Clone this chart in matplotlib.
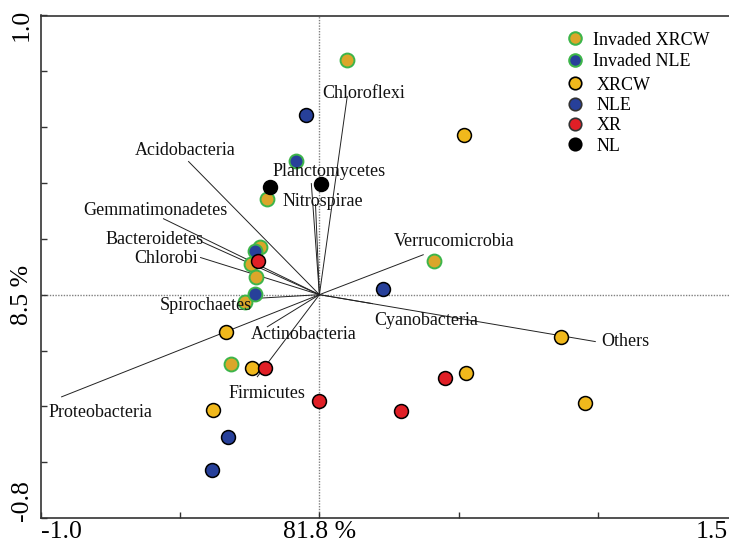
import matplotlib
matplotlib.use('Agg')
import matplotlib.pyplot as plt
from matplotlib.lines import Line2D
import matplotlib.transforms as mtransforms

plt.rcParams['font.family'] = ['Liberation Serif', 'DejaVu Serif']

# ---- sample scores ----
inv_xrcw_x = [0.100, -0.187, -0.215, -0.244, -0.226, -0.269, -0.316, 0.413]
inv_xrcw_y = [0.839, 0.341, 0.172, 0.111, 0.065, -0.025, -0.247, 0.122]
inv_nle_x = [-0.083, -0.233, -0.230]
inv_nle_y = [0.480, 0.158, 0.004]
xrcw_x = [-0.334, -0.241, -0.381, 0.521, 0.869, 0.528, 0.955]
xrcw_y = [-0.133, -0.262, -0.412, 0.573, -0.151, -0.280, -0.387]
nle_x = [-0.327, -0.384, -0.047, 0.230]
nle_y = [-0.509, -0.627, 0.642, 0.022]
xr_x = [-0.219, -0.197, 0.000, 0.452, 0.294]
xr_y = [0.122, -0.262, -0.380, -0.297, -0.416]
nl_x = [-0.176, 0.007]
nl_y = [0.384, 0.398]

# ---- species vectors ----
species = ['Chloroflexi', 'Planctomycetes', 'Nitrospirae', 'Acidobacteria',
           'Gemmatimonadetes', 'Bacteroidetes', 'Chlorobi', 'Spirochaetes',
           'Actinobacteria', 'Firmicutes', 'Proteobacteria', 'Verrucomicrobia',
           'Cyanobacteria', 'Others']
species_x = [0.100, -0.029, -0.014, -0.470, -0.560, -0.424, -0.427, -0.240,
             -0.187, -0.223, -0.926, 0.373, 0.190, 0.991]
species_y = [0.710, 0.398, 0.323, 0.477, 0.272, 0.190, 0.133, -0.014,
             -0.115, -0.294, -0.366, 0.143, -0.032, -0.168]
# label anchor positions (layout)
label_pos = [(0.011, 0.720, 'left'), (0.036, 0.441, 'center'), (0.011, 0.334, 'center'),
             (-0.481, 0.516, 'center'), (-0.589, 0.301, 'center'), (-0.592, 0.197, 'center'),
             (-0.549, 0.129, 'center'), (-0.409, -0.039, 'center'), (-0.057, -0.143, 'center'),
             (-0.187, -0.355, 'center'), (-0.786, -0.423, 'center'), (0.485, 0.190, 'center'),
             (0.384, -0.093, 'center'), (1.099, -0.168, 'center')]

x_labels = ['-1.0', '81.8 %', '1.5']
y_labels = ['1.0', '8.5 %', '-0.8']

ORANGE = '#f0b81c'
INV_ORANGE = '#dba62a'
BLUE = '#27409a'
RED = '#e01f26'
GREEN = '#3db54a'

fig = plt.figure(figsize=(7.29, 5.47), dpi=100)
ax = fig.add_axes([41/729, 29/547, 696/729, 502.5/547])
ax.set_xlim(-1.0, 1.5)
ax.set_ylim(-0.8, 1.0)

ax.axvline(0, color='#808080', lw=1.0, ls=(0, (1, 1)), zorder=1)
ax.axhline(0, color='#808080', lw=1.0, ls=(0, (1, 1)), zorder=1)

for sx, sy in zip(species_x, species_y):
    ax.plot([0, sx], [0, sy], color='#222222', lw=0.7, zorder=2)

s = 100
ax.scatter(inv_xrcw_x, inv_xrcw_y, s=s, c=INV_ORANGE, edgecolors=GREEN, linewidths=1.4, zorder=3)
ax.scatter(inv_nle_x, inv_nle_y, s=s, c=BLUE, edgecolors=GREEN, linewidths=1.4, zorder=3)
ax.scatter(xrcw_x, xrcw_y, s=s, c=ORANGE, edgecolors='black', linewidths=1.1, zorder=4)
ax.scatter(nle_x, nle_y, s=s, c=BLUE, edgecolors='black', linewidths=1.1, zorder=4)
ax.scatter(xr_x, xr_y, s=s, c=RED, edgecolors='black', linewidths=1.1, zorder=5)
ax.scatter(nl_x, nl_y, s=s, c='black', edgecolors='black', linewidths=1.1, zorder=5)

for name, (lx, ly, ha) in zip(species, label_pos):
    ax.text(lx, ly, name, ha=ha, va='center', fontsize=13, zorder=6, color='#111111')

# spines and ticks
for side in ['top', 'left', 'bottom']:
    ax.spines[side].set_color('#333333')
    ax.spines[side].set_linewidth(1.2)
ax.spines['right'].set_visible(False)
ax.set_xticks([-1.0, -0.5, 0.0, 0.5, 1.0, 1.5])
ax.set_yticks([-0.8, -0.6, -0.4, -0.2, 0.0, 0.2, 0.4, 0.6, 0.8, 1.0])
ax.tick_params(direction='in', length=4, width=1, color='#333333',
               labelbottom=False, labelleft=False)

fs = 18.5
tx = mtransforms.blended_transform_factory(ax.transData, ax.transAxes)
ax.annotate(x_labels[0], xy=(-1.0, 0), xycoords=tx, xytext=(0, -2), textcoords='offset points',
            ha='left', va='top', fontsize=fs)
ax.annotate(x_labels[1], xy=(0.0, 0), xycoords=tx, xytext=(0, -2), textcoords='offset points',
            ha='center', va='top', fontsize=fs)
ax.annotate(x_labels[2], xy=(1.468, 0), xycoords=tx, xytext=(0, -2), textcoords='offset points',
            ha='right', va='top', fontsize=fs)
ty = mtransforms.blended_transform_factory(ax.transAxes, ax.transData)
ax.annotate(y_labels[0], xy=(0, 0.965), xycoords=ty, xytext=(-6, 0), textcoords='offset points',
            ha='right', va='center', rotation=90, fontsize=fs)
ax.annotate(y_labels[1], xy=(0, 0.0), xycoords=ty, xytext=(-6, 0), textcoords='offset points',
            ha='right', va='center', rotation=90, fontsize=fs)
ax.annotate(y_labels[2], xy=(0, -0.738), xycoords=ty, xytext=(-6, 0), textcoords='offset points',
            ha='right', va='center', rotation=90, fontsize=fs)

# legends
h1 = [Line2D([], [], ls='', marker='o', ms=9, mfc=INV_ORANGE, mec=GREEN, mew=1.5),
      Line2D([], [], ls='', marker='o', ms=9, mfc=BLUE, mec=GREEN, mew=1.5)]
leg1 = ax.legend(h1, ['Invaded XRCW', 'Invaded NLE'], loc='upper left',
                 bbox_to_anchor=(0.754, 0.968), frameon=False, fontsize=13,
                 handlelength=1.0, handletextpad=0.5, labelspacing=0.26, borderpad=0,
                 borderaxespad=0)
ax.add_artist(leg1)
h2 = [Line2D([], [], ls='', marker='o', ms=9, mfc=ORANGE, mec='black', mew=1.2),
      Line2D([], [], ls='', marker='o', ms=9, mfc=BLUE, mec='#333333', mew=1.2),
      Line2D([], [], ls='', marker='o', ms=9, mfc=RED, mec='#333333', mew=1.2),
      Line2D([], [], ls='', marker='o', ms=9, mfc='black', mec='black', mew=1.2)]
ax.legend(h2, ['XRCW', 'NLE', 'XR', 'NL'], loc='upper left',
          bbox_to_anchor=(0.754, 0.878), frameon=False, fontsize=13,
          handlelength=1.0, handletextpad=0.68, labelspacing=0.18, borderpad=0,
          borderaxespad=0)

fig.savefig('out.png', dpi=100)
